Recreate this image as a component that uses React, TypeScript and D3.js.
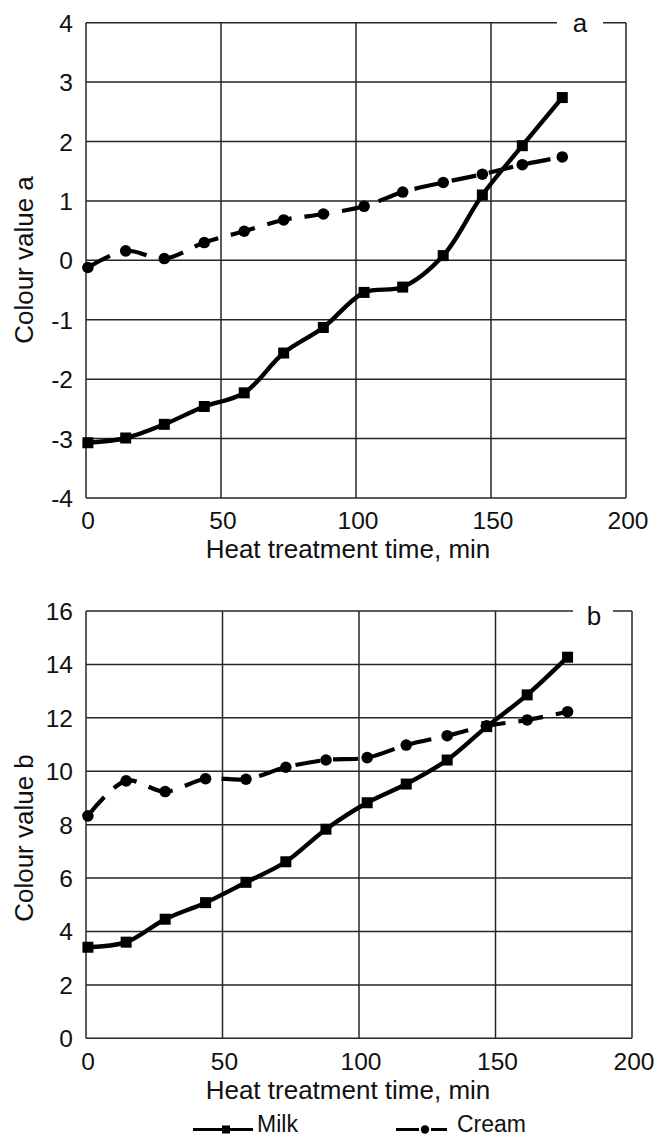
import React from 'react';
import * as d3 from 'd3';

// ---- data ----
const timeA = [0.7, 14.7, 29, 43.8, 58.6, 73.2, 87.9, 103, 117.3, 132.3, 146.8, 161.6, 176.4];
const milkA = [-3.07, -2.99, -2.76, -2.46, -2.23, -1.56, -1.13, -0.54, -0.45, 0.08, 1.1, 1.93, 2.74];
const creamA = [-0.12, 0.16, 0.03, 0.3, 0.49, 0.68, 0.78, 0.91, 1.15, 1.31, 1.45, 1.61, 1.74];

const timeB = [0.7, 14.7, 29, 43.8, 58.6, 73.2, 87.9, 103, 117.3, 132.3, 146.8, 161.6, 176.4];
const milkB = [3.41, 3.6, 4.46, 5.08, 5.84, 6.61, 7.83, 8.82, 9.52, 10.42, 11.67, 12.86, 14.27];
const creamB = [8.33, 9.64, 9.24, 9.72, 9.7, 10.15, 10.42, 10.51, 10.98, 11.33, 11.7, 11.92, 12.23];

const xTicks = [0, 50, 100, 150, 200];
const yTicksA = [-4, -3, -2, -1, 0, 1, 2, 3, 4];
const yTicksB = [0, 2, 4, 6, 8, 10, 12, 14, 16];

const seriesNames = ['Milk', 'Cream'];
const xTitle = 'Heat treatment time, min';

const FONT = '"Liberation Sans", Arial, Helvetica, sans-serif';
const INK = '#111';
const GRID = '#262626';
const TICK_FS = 24.5;
const TITLE_FS = 26;

type PanelProps = {
  xr: [number, number];
  yDomain: [number, number];
  yr: [number, number];
  yTicks: number[];
  time: number[];
  milk: number[];
  cream: number[];
  yTitle: string;
  yTitleY: number;
  tag: string;
  tagX: number;
  tagBox: [number, number];
  tagBaseline: number;
  xLabelBaseline: number;
  xTitleBaseline: number;
};

function Panel(p: PanelProps) {
  const x = d3.scaleLinear().domain([0, 200]).range(p.xr);
  const y = d3.scaleLinear().domain(p.yDomain).range(p.yr);
  const line = d3
    .line<number>()
    .x((_, i) => x(p.time[i]))
    .y((d) => y(d))
    .curve(d3.curveCatmullRom.alpha(0.5));
  const [x0, x1] = p.xr;
  const [yb, yt] = p.yr;
  return (
    <g>
      {p.yTicks.map((t) => (
        <line key={'h' + t} x1={x0} x2={x1} y1={y(t)} y2={y(t)} stroke={GRID} strokeWidth={1.5} />
      ))}
      {xTicks.map((t) => (
        <line key={'v' + t} x1={x(t)} x2={x(t)} y1={yt} y2={yb} stroke={GRID} strokeWidth={1.5} />
      ))}
      {/* tag box */}
      <rect x={p.tagBox[0]} y={yt - 14} width={p.tagBox[1] - p.tagBox[0]} height={30} fill="#fff" />
      <text x={p.tagX} y={p.tagBaseline} textAnchor="middle" fontSize={TITLE_FS} fontFamily={FONT} fill={INK}>
        {p.tag}
      </text>
      {/* y tick labels */}
      {p.yTicks.map((t) => (
        <text key={'yl' + t} x={73} y={y(t) + 9} textAnchor="end" fontSize={TICK_FS} fontFamily={FONT} fill={INK}>
          {t}
        </text>
      ))}
      {/* x tick labels */}
      {xTicks.map((t) => (
        <text key={'xl' + t} x={x(t) + 2} y={p.xLabelBaseline} textAnchor="middle" fontSize={TICK_FS} fontFamily={FONT} fill={INK}>
          {t}
        </text>
      ))}
      <text x={348} y={p.xTitleBaseline} textAnchor="middle" fontSize={TITLE_FS} fontFamily={FONT} fill={INK}>
        {xTitle}
      </text>
      <text
        transform={`translate(33,${p.yTitleY}) rotate(-90)`}
        textAnchor="middle"
        fontSize={TITLE_FS}
        fontFamily={FONT}
        fill={INK}
      >
        {p.yTitle}
      </text>
      {/* cream series */}
      <path d={line(p.cream) || ''} fill="none" stroke="#000" strokeWidth={4.2} strokeDasharray="25,13" />
      {p.cream.map((v, i) => (
        <circle key={'c' + i} cx={x(p.time[i])} cy={y(v)} r={5.8} fill="#000" />
      ))}
      {/* milk series */}
      <path d={line(p.milk) || ''} fill="none" stroke="#000" strokeWidth={4.4} strokeLinejoin="round" />
      {p.milk.map((v, i) => (
        <rect key={'m' + i} x={x(p.time[i]) - 5.5} y={y(v) - 5.5} width={11} height={11} fill="#000" />
      ))}
    </g>
  );
}

export default function App() {
  return (
    <svg
      width={657}
      height={1138}
      style={{ position: 'absolute', left: 0, top: 0, display: 'block', background: '#fff' }}
    >
      <rect x={0} y={0} width={657} height={1138} fill="#fff" />
      <Panel
        xr={[86, 626]}
        yDomain={[-4, 4]}
        yr={[498, 22.7]}
        yTicks={yTicksA}
        time={timeA}
        milk={milkA}
        cream={creamA}
        yTitle="Colour value a"
        yTitleY={260}
        tag="a"
        tagX={580}
        tagBox={[557, 603]}
        tagBaseline={32}
        xLabelBaseline={529}
        xTitleBaseline={558}
      />
      <Panel
        xr={[86, 632]}
        yDomain={[0, 16]}
        yr={[1038.3, 611]}
        yTicks={yTicksB}
        time={timeB}
        milk={milkB}
        cream={creamB}
        yTitle="Colour value b"
        yTitleY={838}
        tag="b"
        tagX={594}
        tagBox={[573, 613]}
        tagBaseline={625}
        xLabelBaseline={1069.5}
        xTitleBaseline={1099}
      />
      {/* legend */}
      <g>
        <line x1={193} x2={253} y1={1129.5} y2={1129.5} stroke="#000" strokeWidth={3} />
        <rect x={222} y={1125.5} width={8} height={8} fill="#000" />
        <text x={257} y={1132} fontSize={23} fontFamily={FONT} fill={INK}>
          {seriesNames[0]}
        </text>
        <line x1={396} x2={419} y1={1129.5} y2={1129.5} stroke="#000" strokeWidth={3} />
        <line x1={431} x2={447} y1={1129.5} y2={1129.5} stroke="#000" strokeWidth={3} />
        <circle cx={425} cy={1129.5} r={4.2} fill="#000" />
        <text x={457} y={1132} fontSize={23} fontFamily={FONT} fill={INK}>
          {seriesNames[1]}
        </text>
      </g>
    </svg>
  );
}
